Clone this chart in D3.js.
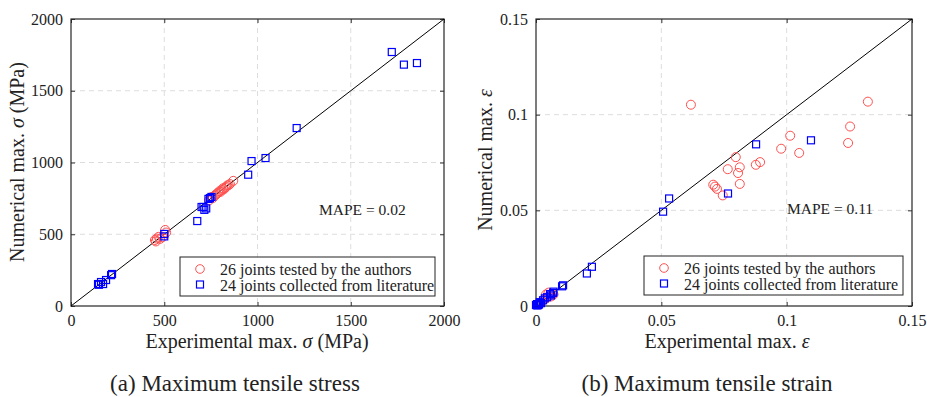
<!DOCTYPE html>
<meta charset="utf-8">
<style>
body { margin: 0; background: #fff; }
.grid line { stroke: #ddd; stroke-dasharray: 5,4; }
</style>
<body>
<script src="https://cdn.jsdelivr.net/npm/d3@7"></script>
<script>
// (a) stress, MPa: [experimental, numerical]
const stressAuthors = [
  [450, 460], [460, 470], [470, 482], [478, 468], [490, 480], [505, 530], [510, 512], [455, 450],
  [760, 752], [770, 768], [776, 776], [782, 782], [790, 790], [796, 800], [802, 796], [808, 808],
  [815, 820], [820, 814], [826, 824], [832, 830], [838, 840], [845, 842], [852, 850], [870, 872],
  [740, 736], [755, 760]
];
const stressLit = [
  [1720, 1770], [1785, 1682], [1855, 1693], [1210, 1240], [1043, 1031], [968, 1010], [950, 915],
  [753, 760], [737, 746], [745, 752], [710, 690], [715, 670], [725, 680], [700, 690], [677, 592],
  [500, 502], [500, 485], [145, 153], [161, 167], [188, 181], [220, 223], [172, 153], [150, 148], [215, 215]
];
// (b) strain: [experimental, numerical]
const strainAuthors = [
  [0.0618, 0.1052], [0.1324, 0.1068], [0.1253, 0.0938], [0.1245, 0.0852], [0.1014, 0.0890],
  [0.0978, 0.0822], [0.1050, 0.0800], [0.0797, 0.0778], [0.0894, 0.0752], [0.0877, 0.0738],
  [0.0765, 0.0715], [0.0813, 0.0725], [0.0806, 0.0695], [0.0813, 0.0638], [0.0707, 0.0634],
  [0.0714, 0.0624], [0.0722, 0.0612], [0.0745, 0.0578],
  [0.004, 0.006], [0.005, 0.007], [0.005, 0.005], [0.006, 0.006], [0.004, 0.004], [0.006, 0.005],
  [0.003, 0.003], [0.007, 0.006]
];
const strainLit = [
  [0.0878, 0.0845], [0.1097, 0.0866], [0.0766, 0.0588], [0.0531, 0.0562], [0.0507, 0.0493],
  [0.0223, 0.0205], [0.0203, 0.0170], [0.0108, 0.0108], [0.0104, 0.0103], [0.0068, 0.0068],
  [0.0056, 0.0062], [0.0044, 0.0046], [0.0028, 0.0030], [0.0004, 0.0010], [0.0000, 0.0005],
  [0.0010, 0.0010], [0.0015, 0.0020], [0.0020, 0.0015], [0.0008, 0.0005], [0.0005, 0.0003],
  [0.0060, 0.0055], [0.0035, 0.0040], [0.0012, 0.0008], [0.0070, 0.0075]
];
const stressTicks = [0, 500, 1000, 1500, 2000];
const strainTicks = [0, 0.05, 0.1, 0.15];
const legendLabels = ["26 joints tested by the authors", "24 joints collected from literature"];

const FONT = '"Liberation Serif"';
const red = "#ff5050", blue = "#0000ff";

const svg = d3.select("body").append("svg").attr("width", 927).attr("height", 397);

function panel(opt) {
  const x = d3.scaleLinear().domain(opt.domain).range([opt.left, opt.right]);
  const y = d3.scaleLinear().domain(opt.domain).range([306, 19]);
  const g = svg.append("g");

  // dashed grid
  const grid = g.append("g").attr("class", "grid");
  grid.selectAll(".gx").data(opt.ticks.slice(1, -1)).join("line")
    .attr("x1", d => x(d)).attr("x2", d => x(d)).attr("y1", 19).attr("y2", 306);
  grid.selectAll(".gy").data(opt.ticks.slice(1, -1)).join("line")
    .attr("y1", d => y(d)).attr("y2", d => y(d)).attr("x1", opt.left).attr("x2", opt.right);

  // axes, ticks pointing inward on all four sides
  g.append("g").attr("class", "ax").attr("transform", "translate(0,306)")
    .call(d3.axisBottom(x).tickValues(opt.ticks).tickFormat(opt.fmt).tickSizeInner(-4).tickSizeOuter(0).tickPadding(9));
  g.append("g").attr("class", "ax").attr("transform", `translate(${opt.left},0)`)
    .call(d3.axisLeft(y).tickValues(opt.ticks).tickFormat(opt.fmt).tickSizeInner(-4).tickSizeOuter(0).tickPadding(8));
  g.append("g").attr("transform", "translate(0,19)")
    .call(d3.axisTop(x).tickValues(opt.ticks).tickFormat("").tickSizeInner(-4).tickSizeOuter(0));
  g.append("g").attr("transform", `translate(${opt.right},0)`)
    .call(d3.axisRight(y).tickValues(opt.ticks).tickFormat("").tickSizeInner(-4).tickSizeOuter(0));
  g.selectAll(".domain").remove();
  g.selectAll(".tick line").attr("stroke", "#333");
  g.selectAll(".ax .tick text").style("font-size", "16px");
  g.append("rect").attr("x", opt.left).attr("y", 19)
    .attr("width", opt.right - opt.left).attr("height", 287)
    .attr("fill", "none").attr("stroke", "#262626").attr("stroke-width", 1.2);

  // 1:1 line
  const d0 = opt.domain;
  g.append("line").attr("x1", x(d0[0])).attr("y1", y(d0[0])).attr("x2", x(d0[1])).attr("y2", y(d0[1]))
    .attr("stroke", "#000").attr("stroke-width", 1);

  g.append("g").selectAll("circle").data(opt.authors).join("circle")
    .attr("cx", d => x(d[0])).attr("cy", d => y(d[1])).attr("r", 4.5)
    .attr("fill", "none").attr("stroke", red).attr("stroke-width", 1);
  g.append("g").selectAll("rect").data(opt.lit).join("rect")
    .attr("x", d => x(d[0]) - 3.5).attr("y", d => y(d[1]) - 3.5).attr("width", 7).attr("height", 7)
    .attr("fill", "none").attr("stroke", blue).attr("stroke-width", 1.2);

  // MAPE
  g.append("text").attr("x", opt.mape[0]).attr("y", opt.mape[1]).attr("dy", "0.35em")
    .style("font-size", "15.5px").text(opt.mapeText);

  // legend
  const lg = g.append("g").attr("transform", `translate(${opt.legend[0]},${opt.legend[1]})`);
  lg.append("rect").attr("width", opt.legend[2]).attr("height", 39)
    .attr("fill", "#fff").attr("stroke", "#222").attr("stroke-width", 1);
  lg.append("circle").attr("cx", 20).attr("cy", 12).attr("r", 4.3)
    .attr("fill", "none").attr("stroke", red);
  lg.append("rect").attr("x", 16.5).attr("y", 24).attr("width", 7).attr("height", 7)
    .attr("fill", "none").attr("stroke", blue).attr("stroke-width", 1.2);
  lg.selectAll("text").data(legendLabels).join("text")
    .attr("x", 40).attr("y", (d, i) => 12 + i * 16).attr("dy", "0.35em")
    .style("font-size", "16px").text(d => d);

  // axis titles
  const xt = g.append("text").attr("x", opt.xlabX).attr("y", 341).attr("dy", "0.35em")
    .attr("text-anchor", "middle").style("font-size", "20px");
  xt.append("tspan").text("Experimental max. ");
  xt.append("tspan").style("font-style", "italic").text(opt.sym);
  if (opt.unit) xt.append("tspan").text(" " + opt.unit);
  const yt = g.append("text").attr("transform", `translate(${opt.ylab[0]},${opt.ylab[1]}) rotate(-90)`).attr("dy", "0.35em")
    .attr("text-anchor", "middle").style("font-size", "20px");
  yt.append("tspan").text("Numerical max. ");
  yt.append("tspan").style("font-style", "italic").text(opt.sym);
  if (opt.unit) yt.append("tspan").text(" " + opt.unit);

  // caption
  svg.append("text").attr("x", opt.capX).attr("y", 383).attr("dy", "0.35em")
    .attr("text-anchor", "middle").style("font-size", "23px").text(opt.caption);
}

panel({
  domain: [0, 2000], ticks: stressTicks, fmt: d3.format("d"), left: 71, right: 444,
  authors: stressAuthors, lit: stressLit, mape: [319, 210], mapeText: "MAPE = 0.02",
  legend: [180, 257, 255], sym: "σ", unit: "(MPa)", xlabX: 257, ylab: [17, 162], capX: 235,
  caption: "(a) Maximum tensile stress"
});
panel({
  domain: [0, 0.15], ticks: strainTicks, fmt: d => d === 0 ? "0" : String(+d.toFixed(2)), left: 536, right: 912,
  authors: strainAuthors, lit: strainLit, mape: [787, 209], mapeText: "MAPE = 0.11",
  legend: [644, 256, 259], sym: "ε", unit: "", xlabX: 727, ylab: [485, 160], capX: 707,
  caption: "(b) Maximum tensile strain"
});

svg.selectAll("text").style("font-family", FONT).attr("fill", "#222");
</script>
</body>
